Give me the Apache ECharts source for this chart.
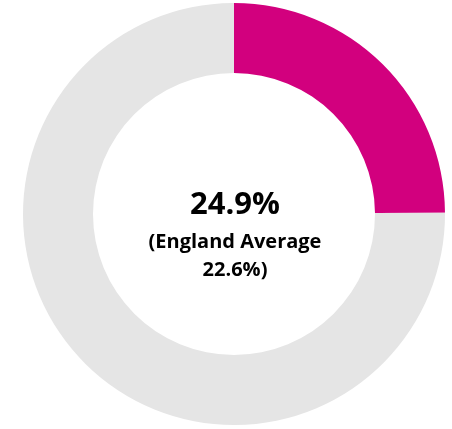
<!DOCTYPE html>
<html>
<head>
<meta charset="utf-8">
<script src="https://cdn.jsdelivr.net/npm/echarts@6/dist/echarts.min.js"></script>
<style>html,body{margin:0;padding:0;background:#fff;}#c{width:452px;height:429px;}</style>
</head>
<body>
<div id="c"></div>
<script>
var categories = ['Local', 'Remainder'];
var values = [24.9, 75.1];
var mainLabel = '24.9%';
var subLabel1 = '(England Average';
var subLabel2 = '22.6%)';
var colors = ['#D2007E', '#E5E5E5'];

var chart = echarts.init(document.getElementById('c'), null, {renderer: 'canvas'});
chart.setOption({
  animation: false,
  backgroundColor: '#ffffff',
  series: [{
    type: 'pie',
    center: [234, 214],
    radius: [141, 211],
    startAngle: 90,
    clockwise: true,
    label: {show: false},
    labelLine: {show: false},
    emphasis: {disabled: true},
    itemStyle: {borderWidth: 0},
    data: categories.map(function (c, i) {
      return {name: c, value: values[i], itemStyle: {color: colors[i]}};
    })
  }],
  graphic: [
    {type: 'text', x: 235, y: 205, style: {text: mainLabel, font: 'bold 31px "Open Sans"', fill: '#000', align: 'center', verticalAlign: 'middle'}},
    {type: 'text', x: 235, y: 242, style: {text: subLabel1, font: 'bold 20px "Open Sans"', fill: '#000', align: 'center', verticalAlign: 'middle'}},
    {type: 'text', x: 235, y: 270, style: {text: subLabel2, font: 'bold 20px "Open Sans"', fill: '#000', align: 'center', verticalAlign: 'middle'}}
  ]
});
</script>
</body>
</html>
